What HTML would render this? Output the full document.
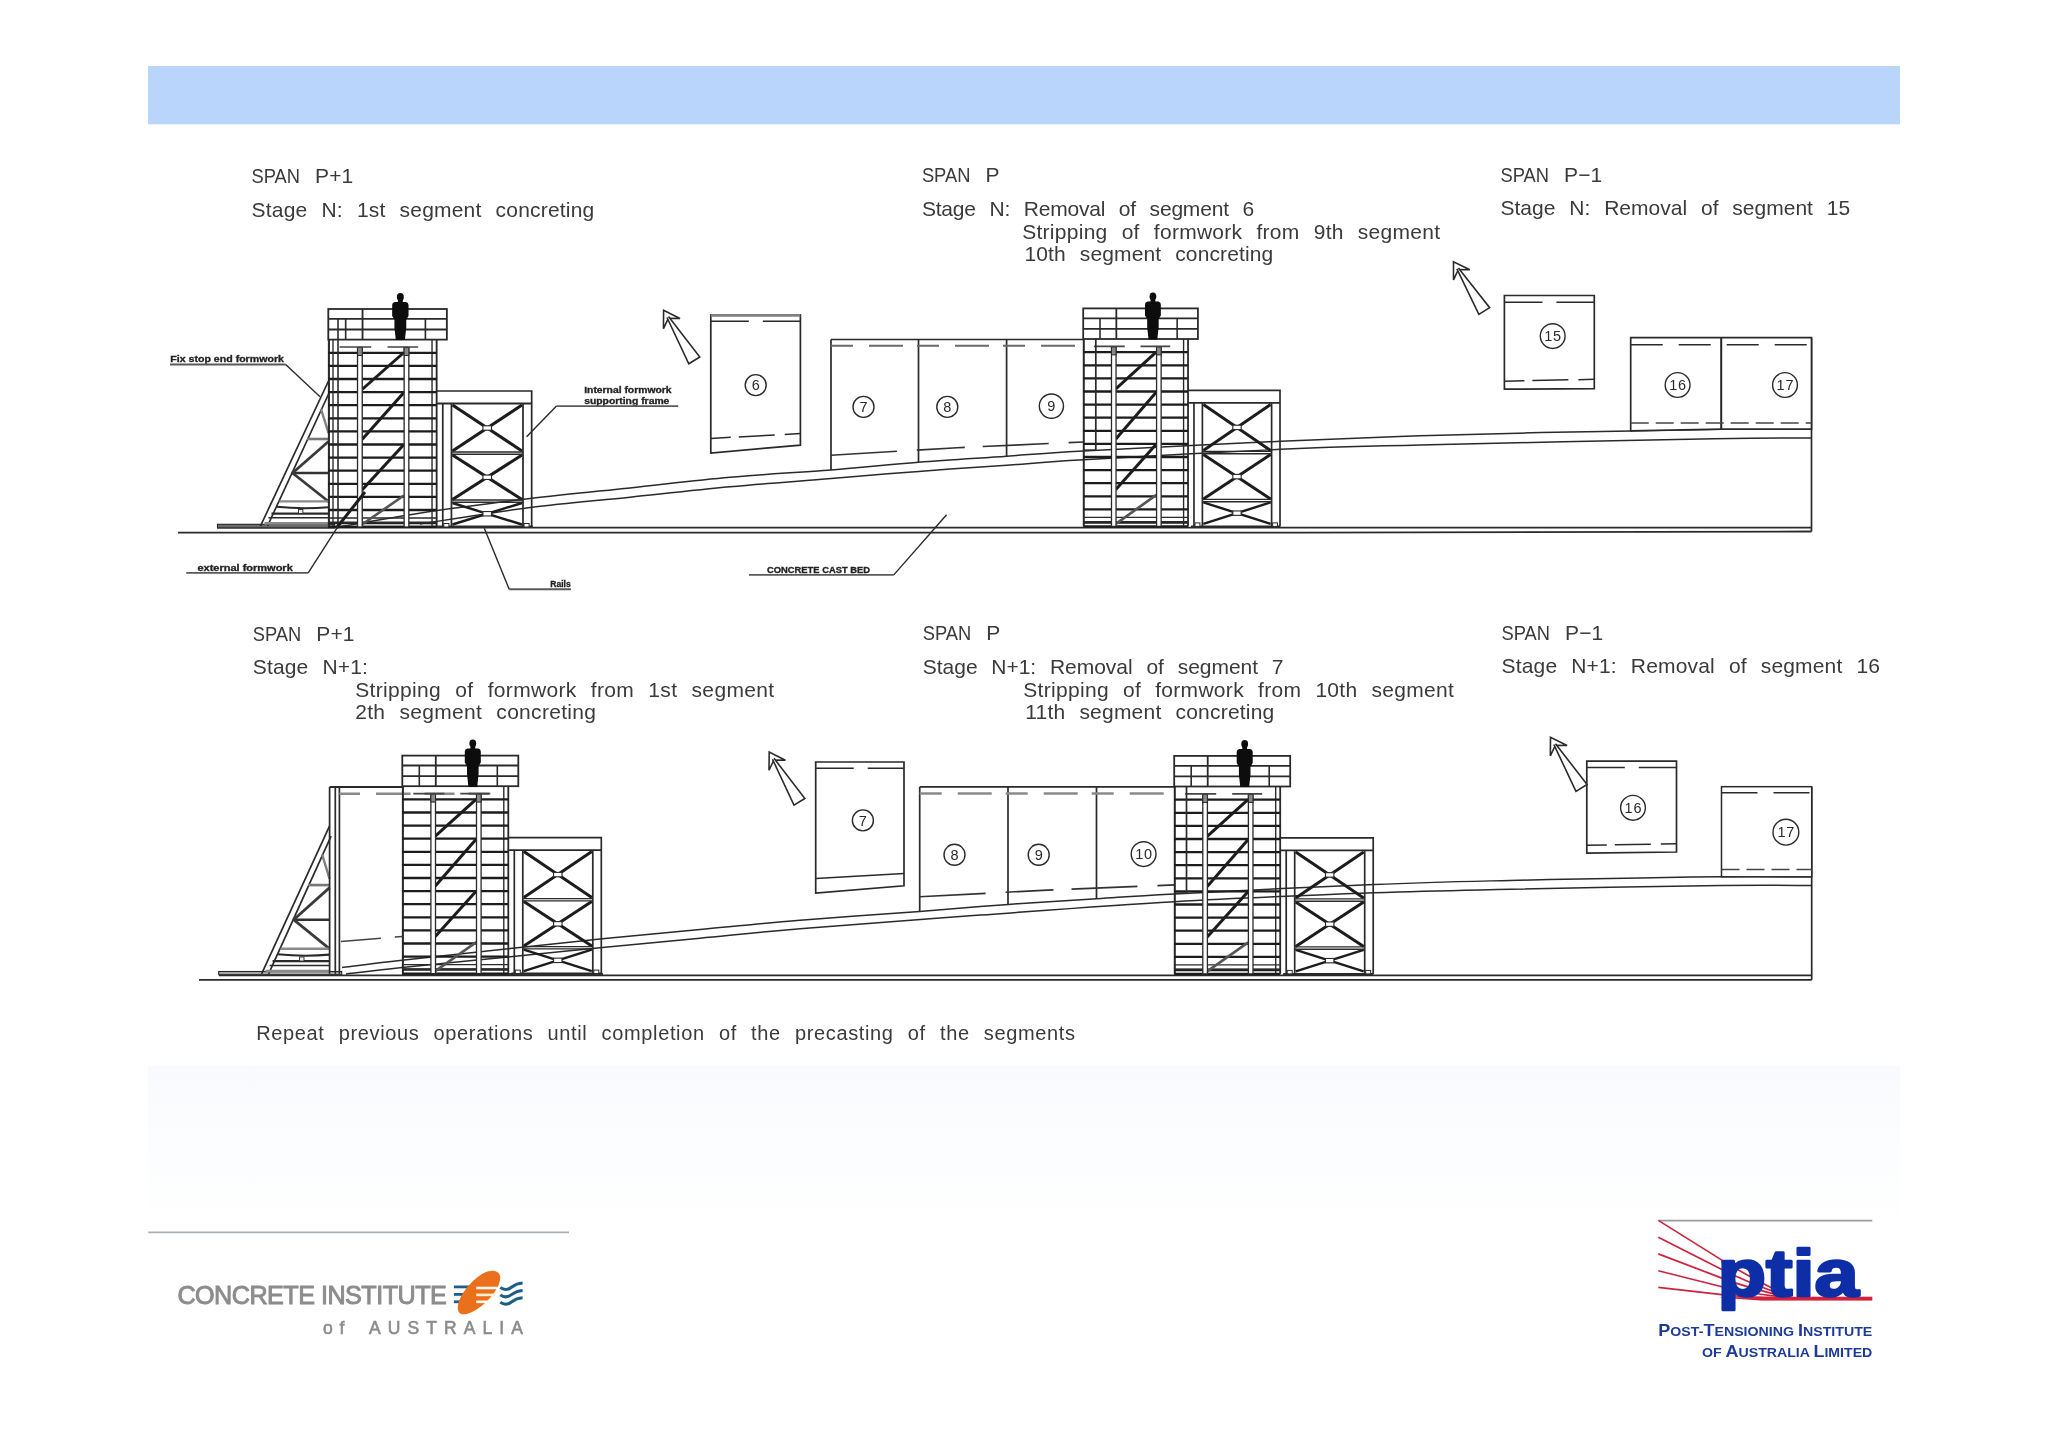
<!DOCTYPE html>
<html><head><meta charset="utf-8"><title>Precasting sequence</title>
<style>html,body{margin:0;padding:0;background:#fff}body{width:2048px;height:1447px;overflow:hidden}svg{display:block}text{font-family:"Liberation Sans",sans-serif}</style></head><body>
<svg width="2048" height="1447" viewBox="0 0 2048 1447">
<defs>
<g id="tower" fill="none" stroke-linecap="butt">
<rect x="0" y="0" width="116.0" height="30.6" fill="#fff" stroke="#2a2a2a" stroke-width="1.8"/>
<line x1="0.0" y1="9.9" x2="116.0" y2="9.9" stroke="#2a2a2a" stroke-width="1.82" />
<line x1="0.0" y1="20.5" x2="116.0" y2="20.5" stroke="#2a2a2a" stroke-width="1.82" />
<line x1="33.5" y1="0.0" x2="33.5" y2="30.6" stroke="#2a2a2a" stroke-width="1.82" />
<line x1="17.0" y1="9.9" x2="17.0" y2="30.6" stroke="#2a2a2a" stroke-width="1.6" />
<line x1="95.0" y1="9.9" x2="95.0" y2="30.6" stroke="#2a2a2a" stroke-width="1.6" />
<line x1="0.6" y1="30.6" x2="0.6" y2="218.0" stroke="#2a2a2a" stroke-width="2.05" />
<line x1="106.0" y1="30.6" x2="106.0" y2="218.0" stroke="#2a2a2a" stroke-width="1.82" />
<line x1="101.5" y1="30.6" x2="101.5" y2="218.0" stroke="#2a2a2a" stroke-width="1.37" />
<line x1="0.0" y1="43.8" x2="106.0" y2="43.8" stroke="#1c1c1c" stroke-width="2.3" />
<line x1="0.0" y1="56.9" x2="106.0" y2="56.9" stroke="#1c1c1c" stroke-width="2.3" />
<line x1="0.0" y1="70.0" x2="106.0" y2="70.0" stroke="#1c1c1c" stroke-width="2.3" />
<line x1="0.0" y1="83.1" x2="106.0" y2="83.1" stroke="#1c1c1c" stroke-width="2.3" />
<line x1="0.0" y1="96.2" x2="106.0" y2="96.2" stroke="#1c1c1c" stroke-width="2.3" />
<line x1="0.0" y1="109.3" x2="106.0" y2="109.3" stroke="#1c1c1c" stroke-width="2.3" />
<line x1="0.0" y1="122.4" x2="106.0" y2="122.4" stroke="#1c1c1c" stroke-width="2.3" />
<line x1="0.0" y1="135.5" x2="106.0" y2="135.5" stroke="#1c1c1c" stroke-width="2.3" />
<line x1="0.0" y1="148.6" x2="106.0" y2="148.6" stroke="#1c1c1c" stroke-width="2.3" />
<line x1="0.0" y1="161.7" x2="106.0" y2="161.7" stroke="#1c1c1c" stroke-width="2.3" />
<line x1="0.0" y1="174.8" x2="106.0" y2="174.8" stroke="#1c1c1c" stroke-width="2.3" />
<line x1="0.0" y1="187.9" x2="106.0" y2="187.9" stroke="#1c1c1c" stroke-width="2.3" />
<line x1="0.0" y1="201.0" x2="106.0" y2="201.0" stroke="#1c1c1c" stroke-width="2.3" />
<line x1="0.0" y1="214.1" x2="106.0" y2="214.1" stroke="#1c1c1c" stroke-width="2.3" />
<line x1="0.0" y1="213.5" x2="106.0" y2="213.5" stroke="#2a2a2a" stroke-width="1.82" />
<line x1="0.0" y1="209.0" x2="106.0" y2="209.0" stroke="#2a2a2a" stroke-width="1.37" />
<line x1="0.0" y1="218.0" x2="106.0" y2="218.0" stroke="#1c1c1c" stroke-width="2.2" />
<line x1="74.0" y1="43.5" x2="33.0" y2="80.5" stroke="#1c1c1c" stroke-width="3.0" />
<line x1="74.0" y1="83.5" x2="33.0" y2="130.5" stroke="#1c1c1c" stroke-width="3.0" />
<line x1="74.0" y1="135.5" x2="33.0" y2="181.0" stroke="#1c1c1c" stroke-width="3.0" />
<line x1="74.0" y1="186.5" x2="33.0" y2="215.5" stroke="#555" stroke-width="2.6" />
<rect x="28.6" y="38.5" width="4.6" height="179.5" fill="#fff" stroke="#2a2a2a" stroke-width="1.3"/>
<rect x="28.6" y="38.5" width="4.6" height="8" fill="#888" stroke="#2a2a2a" stroke-width="1"/>
<rect x="74.2" y="38.5" width="4.6" height="179.5" fill="#fff" stroke="#2a2a2a" stroke-width="1.3"/>
<rect x="74.2" y="38.5" width="4.6" height="8" fill="#888" stroke="#2a2a2a" stroke-width="1"/>
<line x1="11.0" y1="38.0" x2="88.0" y2="38.0" stroke="#444" stroke-width="1.6" stroke-dasharray="31 16 40 0"/>
<ellipse cx="70.5" cy="-12" rx="3.4" ry="4" fill="#0a0a0a"/>
<path fill="#0a0a0a" stroke="none" d="M68.1,-9 h4.8 v2 h3 q2.6,0.6 2.6,3 v11 l-2.2,3.5 v8 l-1.4,12.6 h-8.8 l-1.4,-12.6 v-8 l-2.2,-3.5 v-11 q0,-2.4 2.6,-3 h3 z"/>
<path d="M106.0,82.0 H199.0 V218.0 " stroke="#2a2a2a" stroke-width="1.7"/>
<line x1="106.0" y1="94.5" x2="199.0" y2="94.5" stroke="#2a2a2a" stroke-width="1.82" />
<line x1="112.0" y1="94.5" x2="112.0" y2="218.0" stroke="#2a2a2a" stroke-width="1.71" />
<line x1="120.5" y1="94.5" x2="120.5" y2="218.0" stroke="#2a2a2a" stroke-width="1.71" />
<line x1="190.5" y1="94.5" x2="190.5" y2="218.0" stroke="#2a2a2a" stroke-width="1.71" />
<line x1="109.0" y1="218.0" x2="199.0" y2="218.0" stroke="#2a2a2a" stroke-width="2.05" />
<line x1="121.5" y1="96.0" x2="189.5" y2="142.0" stroke="#1c1c1c" stroke-width="3.0" />
<line x1="121.5" y1="142.0" x2="189.5" y2="96.0" stroke="#1c1c1c" stroke-width="3.0" />
<rect x="151.3" y="116.8" width="8.4" height="4.4" fill="#fff" stroke="#2a2a2a" stroke-width="1.1"/>
<line x1="121.5" y1="146.0" x2="189.5" y2="190.5" stroke="#1c1c1c" stroke-width="3.0" />
<line x1="121.5" y1="190.5" x2="189.5" y2="146.0" stroke="#1c1c1c" stroke-width="3.0" />
<rect x="151.3" y="166.05" width="8.4" height="4.4" fill="#fff" stroke="#2a2a2a" stroke-width="1.1"/>
<line x1="121.5" y1="194.0" x2="189.5" y2="215.5" stroke="#1c1c1c" stroke-width="2.4" />
<line x1="121.5" y1="215.5" x2="189.5" y2="194.0" stroke="#1c1c1c" stroke-width="2.4" />
<rect x="151.3" y="202.55" width="8.4" height="4.4" fill="#fff" stroke="#2a2a2a" stroke-width="1.1"/>
<line x1="120.5" y1="143.0" x2="190.5" y2="143.0" stroke="#2a2a2a" stroke-width="1.37" />
<line x1="120.5" y1="145.3" x2="190.5" y2="145.3" stroke="#2a2a2a" stroke-width="1.37" />
<line x1="120.5" y1="191.0" x2="190.5" y2="191.0" stroke="#2a2a2a" stroke-width="1.37" />
<line x1="120.5" y1="193.3" x2="190.5" y2="193.3" stroke="#2a2a2a" stroke-width="1.37" />
<rect x="113" y="214.5" width="5" height="3.5" fill="#fff" stroke="#2a2a2a" stroke-width="1"/>
<rect x="191.5" y="214.5" width="5" height="3.5" fill="#fff" stroke="#2a2a2a" stroke-width="1"/>
</g>
<g id="brace" fill="none">
<line x1="0.0" y1="-145.0" x2="-68.0" y2="0.0" stroke="#2a2a2a" stroke-width="1.71" />
<line x1="1.5" y1="-135.0" x2="-61.0" y2="0.0" stroke="#2a2a2a" stroke-width="1.71" />
<line x1="-21.5" y1="-87.0" x2="0.0" y2="-87.0" stroke="#777" stroke-width="2.6" />
<line x1="-37.0" y1="-53.0" x2="0.0" y2="-53.0" stroke="#333" stroke-width="2.6" />
<line x1="0.0" y1="-84.5" x2="-36.0" y2="-53.0" stroke="#3a3a3a" stroke-width="2.8" />
<line x1="-36.0" y1="-53.0" x2="0.0" y2="-24.5" stroke="#3a3a3a" stroke-width="2.8" />
<line x1="-7.5" y1="-117.0" x2="0.0" y2="-93.0" stroke="#808080" stroke-width="2.4" />
<line x1="-49.0" y1="-24.6" x2="0.0" y2="-24.6" stroke="#8a8a8a" stroke-width="2.4" />
<path d="M-52,-19.2 Q-26,-16.6 0,-18.8" stroke="#2a2a2a" stroke-width="2.0"/>
<line x1="-57.0" y1="-12.4" x2="0.0" y2="-12.4" stroke="#2a2a2a" stroke-width="2.28" />
<line x1="-60.0" y1="-8.2" x2="0.0" y2="-8.2" stroke="#2a2a2a" stroke-width="1.37" />
<line x1="-64.0" y1="-2.6" x2="0.0" y2="-2.6" stroke="#8a8a8a" stroke-width="2.8" />
<rect x="-30" y="-16.5" width="4.4" height="4" fill="#eee" stroke="#2a2a2a" stroke-width="0.9"/>
</g>
<g id="arrow" fill="none">
<polygon points="0.0,0.0 -9.8,15.7 -0.4,9.6 0.4,9.6 9.8,15.7" fill="#fff" stroke="#2a2a2a" stroke-width="1.6" stroke-linejoin="miter"/>
<polyline points="-0.9,8.0 -6.5,59.3 6.5,59.3 0.9,8.0" fill="#fff" stroke="#2a2a2a" stroke-width="1.6" />
</g>
</defs>
<defs><filter id="soft" x="0" y="0" width="2048" height="1447" filterUnits="userSpaceOnUse"><feGaussianBlur stdDeviation="0.5"/></filter></defs>
<defs><linearGradient id="fade" x1="0" y1="0" x2="0" y2="1"><stop offset="0" stop-color="#f8fafd"/><stop offset="0.55" stop-color="#fcfdfe"/><stop offset="1" stop-color="#ffffff"/></linearGradient></defs>
<rect width="2048" height="1447" fill="#fff"/>
<g filter="url(#soft)">
<rect x="148" y="66" width="1752" height="58.3" fill="#b9d5fc"/>
<rect x="148" y="1066" width="1752" height="166" fill="url(#fade)"/>
<path d="M338.0,527.0 C354.5,524.2 405.0,515.2 437.0,510.5 C469.0,505.8 497.8,502.3 530.0,498.5 C562.2,494.7 596.7,491.4 630.0,487.9 C663.3,484.4 696.5,480.3 730.0,477.3 C763.5,474.3 799.9,472.4 831.3,469.9 C862.7,467.4 889.3,464.5 918.6,462.2 C947.9,459.9 979.4,458.1 1006.9,456.2 C1034.4,454.3 1038.0,453.5 1083.6,451.0 C1129.2,448.5 1224.5,443.8 1280.6,441.3 C1336.7,438.8 1376.8,437.2 1420.0,435.8 C1463.2,434.4 1504.9,433.4 1540.0,432.6 C1575.1,431.8 1600.5,431.5 1630.7,430.9 C1660.9,430.3 1691.1,429.5 1721.2,429.2 C1751.3,428.9 1796.5,429.1 1811.5,429.1" fill="none" stroke="#2a2a2a" stroke-width="1.48"/>
<path d="M420.0,524.0 C438.3,521.3 495.0,512.1 530.0,507.6 C565.0,503.1 596.7,500.7 630.0,497.2 C663.3,493.7 696.5,489.9 730.0,486.8 C763.5,483.7 799.9,481.2 831.3,478.6 C862.7,476.0 889.3,473.6 918.6,471.4 C947.9,469.2 979.4,467.1 1006.9,465.2 C1034.4,463.3 1038.0,462.4 1083.6,459.8 C1129.2,457.2 1224.5,451.8 1280.6,449.3 C1336.7,446.8 1347.8,446.8 1420.0,445.0 C1492.2,443.2 1648.8,439.9 1714.0,438.8 C1779.2,437.7 1795.2,438.2 1811.5,438.1" fill="none" stroke="#2a2a2a" stroke-width="1.48"/>
<line x1="217.0" y1="527.6" x2="1811.5" y2="527.6" stroke="#2a2a2a" stroke-width="1.6" />
<polyline points="178.0,532.7 1300.0,532.6 1811.5,531.5" fill="none" stroke="#2a2a2a" stroke-width="1.82" />
<rect x="217.5" y="524.3" width="117" height="3.6" fill="#6a6a6a" stroke="#2a2a2a" stroke-width="1.1"/>
<line x1="334.0" y1="526.6" x2="533.0" y2="526.6" stroke="#333" stroke-width="2.28" />
<line x1="1811.5" y1="337.7" x2="1811.5" y2="531.5" stroke="#2a2a2a" stroke-width="1.71" />
<polygon points="710.8,314.8 800.4,314.8 800.4,445.2 710.8,453.0" fill="#fff" stroke="#2a2a2a" stroke-width="1.71" />
<line x1="710.8" y1="315.4" x2="800.4" y2="315.4" stroke="#808080" stroke-width="2.6" />
<line x1="710.8" y1="321.2" x2="800.4" y2="321.2" stroke="#2a2a2a" stroke-width="1.48" stroke-dasharray="38 14"/>
<line x1="710.8" y1="438.4" x2="800.4" y2="433.6" stroke="#2a2a2a" stroke-width="1.48" stroke-dasharray="20 8 36 10"/>
<use href="#arrow" transform="translate(663.6,310.3) rotate(-31.5) scale(0.991)"/>
<circle cx="755.7" cy="385.1" r="10.5" fill="#fff" stroke="#2a2a2a" stroke-width="1.4"/>
<text x="755.7" y="390.2" font-size="14.5" text-anchor="middle" fill="#2a2a2a">6</text>
<line x1="831.0" y1="339.5" x2="1083.6" y2="339.5" stroke="#2a2a2a" stroke-width="1.71" />
<line x1="831.0" y1="339.5" x2="831.0" y2="469.9" stroke="#2a2a2a" stroke-width="1.71" />
<line x1="918.5" y1="339.5" x2="918.5" y2="462.2" stroke="#2a2a2a" stroke-width="1.71" />
<line x1="1006.6" y1="339.5" x2="1006.6" y2="456.2" stroke="#2a2a2a" stroke-width="1.71" />
<line x1="831.0" y1="345.7" x2="1083.6" y2="345.7" stroke="#6a6a6a" stroke-width="2.05" stroke-dasharray="22 16 34 14"/>
<polyline points="831.0,455.2 957.3,447.7 1083.6,442.0" fill="none" stroke="#333" stroke-width="1.6" stroke-dasharray="66 20 48 18"/>
<circle cx="863.5" cy="406.9" r="10.5" fill="#fff" stroke="#2a2a2a" stroke-width="1.4"/>
<text x="863.5" y="412.0" font-size="14.5" text-anchor="middle" fill="#2a2a2a">7</text>
<circle cx="947.3" cy="406.9" r="10.5" fill="#fff" stroke="#2a2a2a" stroke-width="1.4"/>
<text x="947.3" y="412.0" font-size="14.5" text-anchor="middle" fill="#2a2a2a">8</text>
<circle cx="1051.4" cy="406.1" r="12.1" fill="#fff" stroke="#2a2a2a" stroke-width="1.4"/>
<text x="1051.4" y="411.2" font-size="14.5" text-anchor="middle" fill="#2a2a2a">9</text>
<polygon points="1504.4,295.5 1594.3,295.5 1594.3,388.6 1504.4,389.2" fill="#fff" stroke="#2a2a2a" stroke-width="1.71" />
<line x1="1504.4" y1="302.2" x2="1594.3" y2="302.2" stroke="#2a2a2a" stroke-width="1.48" stroke-dasharray="38 14"/>
<line x1="1504.4" y1="381.2" x2="1594.3" y2="379.3" stroke="#2a2a2a" stroke-width="1.48" stroke-dasharray="20 8 36 10"/>
<use href="#arrow" transform="translate(1453.5,261.8) rotate(-32.0) scale(0.979)"/>
<circle cx="1552.7" cy="336.1" r="12.4" fill="#fff" stroke="#2a2a2a" stroke-width="1.4"/>
<text x="1553.1" y="341.2" font-size="14.5" text-anchor="middle" fill="#2a2a2a" letter-spacing="0.8">15</text>
<polygon points="1630.7,337.7 1811.5,337.7 1811.5,429.1 1721.2,429.2 1630.7,430.9" fill="#fff" stroke="#2a2a2a" stroke-width="1.71" />
<line x1="1721.2" y1="337.7" x2="1721.2" y2="429.4" stroke="#2a2a2a" stroke-width="2.05" />
<line x1="1630.7" y1="344.7" x2="1811.5" y2="344.7" stroke="#2a2a2a" stroke-width="1.48" stroke-dasharray="32 16"/>
<line x1="1630.7" y1="423.0" x2="1811.5" y2="423.0" stroke="#444" stroke-width="1.48" stroke-dasharray="18 7"/>
<circle cx="1677.6" cy="385.0" r="12.4" fill="#fff" stroke="#2a2a2a" stroke-width="1.4"/>
<text x="1678.0" y="390.1" font-size="14.5" text-anchor="middle" fill="#2a2a2a" letter-spacing="0.8">16</text>
<circle cx="1785.0" cy="385.0" r="12.4" fill="#fff" stroke="#2a2a2a" stroke-width="1.4"/>
<text x="1785.4" y="390.1" font-size="14.5" text-anchor="middle" fill="#2a2a2a" letter-spacing="0.8">17</text>
<use href="#brace" transform="translate(328.5,526)"/>
<use href="#tower" transform="translate(328.3,309.0) scale(1.022,1)"/>
<line x1="333.0" y1="339.3" x2="333.0" y2="526.0" stroke="#2a2a2a" stroke-width="1.37" />
<line x1="338.0" y1="318.6" x2="338.0" y2="526.0" stroke="#2a2a2a" stroke-width="1.6" />
<line x1="365.0" y1="492.0" x2="336.5" y2="528.0" stroke="#1c1c1c" stroke-width="3.0" />
<use href="#tower" transform="translate(1083.2,308.4) scale(0.989,1)"/>
<line x1="1095.8" y1="338.5" x2="1095.8" y2="450.0" stroke="#2a2a2a" stroke-width="1.71" />
<line x1="1083.2" y1="450.0" x2="1095.8" y2="450.0" stroke="#2a2a2a" stroke-width="1.37" />
<text x="170.3" y="362.0" font-size="8.6" font-weight="700" fill="#222" textLength="113.6" lengthAdjust="spacingAndGlyphs" stroke="#222" stroke-width="0.3">Fix stop end formwork</text>
<line x1="170.0" y1="364.5" x2="285.7" y2="364.5" stroke="#5a5a5a" stroke-width="1.94" />
<polyline points="285.7,364.5 320.0,396.8" fill="none" stroke="#2a2a2a" stroke-width="1.42" />
<text x="584.2" y="393.0" font-size="8.6" font-weight="700" fill="#222" textLength="87.4" lengthAdjust="spacingAndGlyphs" stroke="#222" stroke-width="0.3">Internal formwork</text>
<text x="584.2" y="404.0" font-size="8.6" font-weight="700" fill="#222" textLength="85.2" lengthAdjust="spacingAndGlyphs" stroke="#222" stroke-width="0.3">supporting frame</text>
<line x1="678.2" y1="406.1" x2="556.5" y2="406.1" stroke="#5a5a5a" stroke-width="1.94" />
<polyline points="556.5,406.1 526.6,436.8" fill="none" stroke="#2a2a2a" stroke-width="1.42" />
<text x="197.4" y="571.0" font-size="8.6" font-weight="700" fill="#222" textLength="95.4" lengthAdjust="spacingAndGlyphs" stroke="#222" stroke-width="0.3">external formwork</text>
<line x1="186.2" y1="572.9" x2="308.2" y2="572.9" stroke="#5a5a5a" stroke-width="1.94" />
<polyline points="308.2,572.9 338.0,526.4" fill="none" stroke="#2a2a2a" stroke-width="1.42" />
<text x="550.2" y="587.0" font-size="8.6" font-weight="700" fill="#222" textLength="20.5" lengthAdjust="spacingAndGlyphs" stroke="#222" stroke-width="0.3">Rails</text>
<line x1="570.9" y1="589.3" x2="509.2" y2="589.3" stroke="#5a5a5a" stroke-width="1.94" />
<polyline points="509.2,589.3 484.3,528.3" fill="none" stroke="#2a2a2a" stroke-width="1.42" />
<text x="767.0" y="572.6" font-size="8.6" font-weight="700" fill="#222" textLength="103.0" lengthAdjust="spacingAndGlyphs" stroke="#222" stroke-width="0.3">CONCRETE CAST BED</text>
<line x1="749.0" y1="574.9" x2="893.8" y2="574.9" stroke="#5a5a5a" stroke-width="1.94" />
<polyline points="893.8,574.9 946.6,514.7" fill="none" stroke="#2a2a2a" stroke-width="1.42" />
<path d="M342.0,967.5 C352.0,966.3 374.3,963.4 402.0,960.3 C429.7,957.2 474.6,952.4 508.0,948.8 C541.4,945.2 570.4,942.0 602.4,938.8 C634.4,935.6 667.1,932.7 700.0,929.6 C732.9,926.5 763.4,923.3 800.0,920.3 C836.6,917.3 885.0,914.1 919.7,911.5 C954.4,908.9 978.8,906.5 1008.3,904.4 C1037.8,902.3 1069.0,900.5 1096.7,898.8 C1124.4,897.0 1128.1,896.3 1174.3,893.9 C1220.5,891.5 1318.1,886.8 1374.1,884.5 C1430.0,882.2 1465.7,881.5 1510.0,880.4 C1554.3,879.3 1604.8,878.6 1640.0,878.0 C1675.2,877.4 1692.9,876.9 1721.5,876.7 C1750.1,876.5 1796.7,876.7 1811.7,876.7" fill="none" stroke="#2a2a2a" stroke-width="1.48"/>
<path d="M346.0,974.0 C355.3,972.9 375.0,970.3 402.0,967.5 C429.0,964.7 474.6,960.4 508.0,957.0 C541.4,953.6 570.4,950.5 602.4,947.4 C634.4,944.3 667.1,941.3 700.0,938.2 C732.9,935.1 753.3,932.6 800.0,928.8 C846.7,924.9 917.6,919.6 980.0,915.1 C1042.4,910.6 1108.6,905.4 1174.3,901.7 C1240.0,898.0 1318.1,894.9 1374.1,892.8 C1430.0,890.7 1452.1,890.5 1510.0,889.3 C1567.9,888.1 1671.2,886.1 1721.5,885.5 C1771.8,884.9 1796.7,885.5 1811.7,885.5" fill="none" stroke="#2a2a2a" stroke-width="1.48"/>
<line x1="219.0" y1="975.4" x2="1811.7" y2="975.4" stroke="#2a2a2a" stroke-width="1.6" />
<line x1="199.0" y1="979.8" x2="1811.7" y2="979.8" stroke="#2a2a2a" stroke-width="1.82" />
<rect x="218.7" y="971.5" width="123" height="3.2" fill="#a8a8a8" stroke="#2a2a2a" stroke-width="1.1"/>
<line x1="402.0" y1="974.2" x2="603.0" y2="974.2" stroke="#333" stroke-width="2.28" />
<line x1="1811.7" y1="786.7" x2="1811.7" y2="979.8" stroke="#2a2a2a" stroke-width="1.71" />
<polygon points="815.7,762.0 904.0,762.0 904.0,885.8 815.7,893.0" fill="#fff" stroke="#2a2a2a" stroke-width="1.71" />
<line x1="815.7" y1="768.3" x2="904.0" y2="768.3" stroke="#2a2a2a" stroke-width="1.48" stroke-dasharray="38 14"/>
<line x1="815.7" y1="878.4" x2="904.0" y2="873.4" stroke="#2a2a2a" stroke-width="1.48" />
<use href="#arrow" transform="translate(769.2,752.1) rotate(-31.3) scale(0.981)"/>
<circle cx="862.9" cy="820.4" r="10.5" fill="#fff" stroke="#2a2a2a" stroke-width="1.4"/>
<text x="862.9" y="825.5" font-size="14.5" text-anchor="middle" fill="#2a2a2a">7</text>
<line x1="919.7" y1="786.9" x2="1174.6" y2="786.9" stroke="#2a2a2a" stroke-width="1.71" />
<line x1="919.7" y1="786.9" x2="919.7" y2="911.5" stroke="#2a2a2a" stroke-width="1.71" />
<line x1="1008.0" y1="786.9" x2="1008.0" y2="904.4" stroke="#2a2a2a" stroke-width="1.71" />
<line x1="1096.5" y1="786.9" x2="1096.5" y2="898.8" stroke="#2a2a2a" stroke-width="1.71" />
<line x1="919.7" y1="793.5" x2="1174.6" y2="793.5" stroke="#8a8a8a" stroke-width="2.4" stroke-dasharray="22 16 34 14"/>
<polyline points="919.7,896.8 1047.2,890.1 1174.6,884.9" fill="none" stroke="#333" stroke-width="1.6" stroke-dasharray="66 20 48 18"/>
<circle cx="954.5" cy="854.8" r="10.5" fill="#fff" stroke="#2a2a2a" stroke-width="1.4"/>
<text x="954.5" y="859.9" font-size="14.5" text-anchor="middle" fill="#2a2a2a">8</text>
<circle cx="1038.7" cy="854.8" r="10.5" fill="#fff" stroke="#2a2a2a" stroke-width="1.4"/>
<text x="1038.7" y="859.9" font-size="14.5" text-anchor="middle" fill="#2a2a2a">9</text>
<circle cx="1143.6" cy="854.1" r="12.4" fill="#fff" stroke="#2a2a2a" stroke-width="1.4"/>
<text x="1144.0" y="859.2" font-size="14.5" text-anchor="middle" fill="#2a2a2a" letter-spacing="0.8">10</text>
<polygon points="1586.8,761.2 1676.5,761.2 1676.5,852.0 1586.8,853.2" fill="#fff" stroke="#2a2a2a" stroke-width="1.71" />
<line x1="1586.8" y1="767.4" x2="1676.5" y2="767.4" stroke="#2a2a2a" stroke-width="1.48" stroke-dasharray="38 14"/>
<line x1="1586.8" y1="845.3" x2="1676.5" y2="843.8" stroke="#2a2a2a" stroke-width="1.48" stroke-dasharray="20 8 36 10"/>
<use href="#arrow" transform="translate(1550.5,737.3) rotate(-31.5) scale(1.001)"/>
<circle cx="1633.0" cy="807.8" r="12.4" fill="#fff" stroke="#2a2a2a" stroke-width="1.4"/>
<text x="1633.4" y="812.9" font-size="14.5" text-anchor="middle" fill="#2a2a2a" letter-spacing="0.8">16</text>
<rect x="1721.5" y="786.7" width="90.2" height="90.1" fill="#fff" stroke="#2a2a2a" stroke-width="1.5"/>
<line x1="1721.5" y1="792.7" x2="1811.7" y2="792.7" stroke="#2a2a2a" stroke-width="1.48" stroke-dasharray="36 16"/>
<line x1="1721.5" y1="869.6" x2="1811.7" y2="869.6" stroke="#444" stroke-width="1.48" stroke-dasharray="18 7"/>
<circle cx="1785.9" cy="832.2" r="12.9" fill="#fff" stroke="#2a2a2a" stroke-width="1.4"/>
<text x="1786.3" y="837.3" font-size="14.5" text-anchor="middle" fill="#2a2a2a" letter-spacing="0.8">17</text>
<use href="#brace" transform="translate(329.6,973.8) scale(1,1.02)"/>
<line x1="329.6" y1="787.0" x2="329.6" y2="973.8" stroke="#2a2a2a" stroke-width="1.71" />
<line x1="335.3" y1="787.0" x2="335.3" y2="973.8" stroke="#2a2a2a" stroke-width="1.71" />
<line x1="339.4" y1="787.0" x2="339.4" y2="973.8" stroke="#2a2a2a" stroke-width="1.71" />
<line x1="329.6" y1="787.0" x2="402.5" y2="787.0" stroke="#2a2a2a" stroke-width="1.82" />
<line x1="339.4" y1="793.8" x2="500.0" y2="793.8" stroke="#8a8a8a" stroke-width="2.6" stroke-dasharray="20.6 16 34.5 14 30 14"/>
<line x1="341.0" y1="941.5" x2="402.0" y2="936.5" stroke="#444" stroke-width="1.48" stroke-dasharray="40 14"/>
<use href="#tower" transform="translate(402.3,755.6)"/>
<use href="#tower" transform="translate(1174.2,755.9)"/>
<line x1="1186.5" y1="786.5" x2="1186.5" y2="893.0" stroke="#2a2a2a" stroke-width="1.71" />
<line x1="1174.2" y1="893.0" x2="1186.5" y2="893.0" stroke="#2a2a2a" stroke-width="1.37" />
<text x="251.5" y="182.8" font-size="21" font-weight="400" fill="#3a3a3a" textLength="48.5" lengthAdjust="spacingAndGlyphs" >SPAN</text>
<text x="315.0" y="182.8" font-size="21" font-weight="400" fill="#3a3a3a" textLength="38.2" lengthAdjust="spacing" >P+1</text>
<text x="251.5" y="217.4" font-size="21" font-weight="400" fill="#3a3a3a" textLength="342.8" lengthAdjust="spacing" word-spacing="8" >Stage N: 1st segment concreting</text>
<text x="921.9" y="182.3" font-size="21" font-weight="400" fill="#3a3a3a" textLength="48.5" lengthAdjust="spacingAndGlyphs" >SPAN</text>
<text x="985.4" y="182.3" font-size="21" font-weight="400" fill="#3a3a3a" textLength="12.6" lengthAdjust="spacing" >P</text>
<text x="921.9" y="215.6" font-size="21" font-weight="400" fill="#3a3a3a" textLength="332.2" lengthAdjust="spacing" word-spacing="8" >Stage N: Removal of segment 6</text>
<text x="1022.2" y="238.9" font-size="21" font-weight="400" fill="#3a3a3a" textLength="417.8" lengthAdjust="spacing" word-spacing="8" >Stripping of formwork from 9th segment</text>
<text x="1024.4" y="260.9" font-size="21" font-weight="400" fill="#3a3a3a" textLength="248.9" lengthAdjust="spacing" word-spacing="8" >10th segment concreting</text>
<text x="1500.5" y="181.6" font-size="21" font-weight="400" fill="#3a3a3a" textLength="48.5" lengthAdjust="spacingAndGlyphs" >SPAN</text>
<text x="1564.0" y="181.6" font-size="21" font-weight="400" fill="#3a3a3a" textLength="38.2" lengthAdjust="spacing" >P−1</text>
<text x="1500.5" y="215.2" font-size="21" font-weight="400" fill="#3a3a3a" textLength="349.7" lengthAdjust="spacing" word-spacing="8" >Stage N: Removal of segment 15</text>
<text x="252.8" y="640.6" font-size="21" font-weight="400" fill="#3a3a3a" textLength="48.5" lengthAdjust="spacingAndGlyphs" >SPAN</text>
<text x="316.3" y="640.6" font-size="21" font-weight="400" fill="#3a3a3a" textLength="38.2" lengthAdjust="spacing" >P+1</text>
<text x="252.8" y="674.0" font-size="21" font-weight="400" fill="#3a3a3a" textLength="115.0" lengthAdjust="spacing" word-spacing="8" >Stage N+1:</text>
<text x="355.2" y="697.1" font-size="21" font-weight="400" fill="#3a3a3a" textLength="418.9" lengthAdjust="spacing" word-spacing="8" >Stripping of formwork from 1st segment</text>
<text x="355.2" y="719.4" font-size="21" font-weight="400" fill="#3a3a3a" textLength="240.8" lengthAdjust="spacing" word-spacing="8" >2th segment concreting</text>
<text x="922.8" y="640.0" font-size="21" font-weight="400" fill="#3a3a3a" textLength="48.5" lengthAdjust="spacingAndGlyphs" >SPAN</text>
<text x="986.3" y="640.0" font-size="21" font-weight="400" fill="#3a3a3a" textLength="12.6" lengthAdjust="spacing" >P</text>
<text x="922.8" y="674.0" font-size="21" font-weight="400" fill="#3a3a3a" textLength="360.7" lengthAdjust="spacing" word-spacing="8" >Stage N+1: Removal of segment 7</text>
<text x="1023.3" y="696.8" font-size="21" font-weight="400" fill="#3a3a3a" textLength="430.6" lengthAdjust="spacing" word-spacing="8" >Stripping of formwork from 10th segment</text>
<text x="1025.2" y="719.4" font-size="21" font-weight="400" fill="#3a3a3a" textLength="249.1" lengthAdjust="spacing" word-spacing="8" >11th segment concreting</text>
<text x="1501.5" y="640.4" font-size="21" font-weight="400" fill="#3a3a3a" textLength="48.5" lengthAdjust="spacingAndGlyphs" >SPAN</text>
<text x="1565.0" y="640.4" font-size="21" font-weight="400" fill="#3a3a3a" textLength="38.2" lengthAdjust="spacing" >P−1</text>
<text x="1501.5" y="672.8" font-size="21" font-weight="400" fill="#3a3a3a" textLength="378.5" lengthAdjust="spacing" word-spacing="8" >Stage N+1: Removal of segment 16</text>
<text x="256.2" y="1040.0" font-size="20" font-weight="400" fill="#3a3a3a" textLength="818.8" lengthAdjust="spacing" word-spacing="8" >Repeat previous operations until completion of the precasting of the segments</text>
<line x1="148.3" y1="1232.4" x2="569.0" y2="1232.4" stroke="#a9aeb9" stroke-width="1.82" />
<text x="177.4" y="1303.6" font-size="25.2" font-weight="400" fill="#8c8c8c" textLength="269.4" lengthAdjust="spacing" stroke="#8c8c8c" stroke-width="0.9">CONCRETE INSTITUTE</text>
<text x="323.0" y="1333.6" font-size="17.5" font-weight="400" fill="#8c8c8c" stroke="#8c8c8c" stroke-width="0.6">o</text>
<text x="339.5" y="1333.6" font-size="17.5" font-weight="400" fill="#8c8c8c" stroke="#8c8c8c" stroke-width="0.6">f</text>
<text x="369.0" y="1333.6" font-size="17.5" font-weight="400" fill="#8c8c8c" textLength="154.0" lengthAdjust="spacing" stroke="#8c8c8c" stroke-width="0.6">AUSTRALIA</text>
<g>
<rect x="453.9" y="1285.5" width="18" height="2.8" fill="#1f5f8c"/>
<path d="M500.3,1287.4 C503.5,1290.0 507.5,1290.2 511.5,1287.2 S518.5,1283.2 522.6,1283.0" fill="none" stroke="#1d5f84" stroke-width="3"/>
<rect x="453.9" y="1293.0" width="18" height="2.8" fill="#1f5f8c"/>
<path d="M500.3,1294.8 C503.5,1297.4 507.5,1297.6 511.5,1294.6 S518.5,1290.6 522.6,1290.4" fill="none" stroke="#1d5f84" stroke-width="3"/>
<rect x="453.9" y="1300.4" width="18" height="2.8" fill="#1f5f8c"/>
<path d="M500.3,1302.2 C503.5,1304.8 507.5,1305.0 511.5,1302.0 S518.5,1298.0 522.6,1297.8" fill="none" stroke="#1d5f84" stroke-width="3"/>
<path d="M458.5,1311.5 C455,1303 466,1284 482,1274 C492,1268.5 499.5,1270.5 500.2,1277 C501,1286 489,1303 474,1311 C466,1315.3 460.5,1315.5 458.5,1311.5 Z" fill="#ea701c"/>
<rect x="476.2" y="1286.7" width="21.4" height="2.6" fill="#fff8ee"/>
<rect x="476.2" y="1293.6" width="18.8" height="2.6" fill="#ffeecf"/>
<rect x="476.2" y="1300.5" width="13.4" height="2.6" fill="#fff8ee"/>
</g>
<line x1="1659.0" y1="1220.6" x2="1872.3" y2="1220.6" stroke="#9a9a9a" stroke-width="1.71" />
<path d="M1658.3,1220.4 L1721.9,1260.1 Q1750.5,1278.0 1792,1298" fill="none" stroke="#cc2440" stroke-width="1.7"/>
<path d="M1658.3,1237.3 L1721.9,1269.4 Q1750.5,1283.8 1792,1298" fill="none" stroke="#cc2440" stroke-width="1.7"/>
<path d="M1658.3,1253.9 L1721.9,1278.1 Q1750.5,1289.0 1792,1298" fill="none" stroke="#cc2440" stroke-width="1.7"/>
<path d="M1658.3,1270.8 L1721.9,1286.7 Q1750.5,1293.9 1792,1298" fill="none" stroke="#cc2440" stroke-width="1.7"/>
<path d="M1658.3,1287.4 L1721.9,1294.7 Q1750.5,1298.0 1792,1298" fill="none" stroke="#cc2440" stroke-width="1.7"/>
<rect x="1760" y="1296.7" width="112.3" height="3.9" fill="#d3243c"/>
<path d="M1718,1297.6 L1760,1296.7 L1760,1300.6 Z" fill="#d3243c"/>
<text x="1717.4" y="1295.9" font-size="66" font-weight="700" fill="#0b2fa6" textLength="141.4" lengthAdjust="spacingAndGlyphs" stroke="#0b2fa6" stroke-width="2.6" stroke-linejoin="round">ptia</text>
<text x="1658.3" y="1335.8" font-weight="700" fill="#1f3a99" textLength="214" lengthAdjust="spacingAndGlyphs"><tspan font-size="16.3">P</tspan><tspan font-size="12.8">OST-</tspan><tspan font-size="16.3">T</tspan><tspan font-size="12.8">ENSIONING </tspan><tspan font-size="16.3">I</tspan><tspan font-size="12.8">NSTITUTE</tspan></text>
<text x="1702.0" y="1356.6" font-weight="700" fill="#1f3a99" textLength="170.3" lengthAdjust="spacingAndGlyphs"><tspan font-size="12.8">OF </tspan><tspan font-size="16.3">A</tspan><tspan font-size="12.8">USTRALIA </tspan><tspan font-size="16.3">L</tspan><tspan font-size="12.8">IMITED</tspan></text>
</g>
</svg></body></html>
